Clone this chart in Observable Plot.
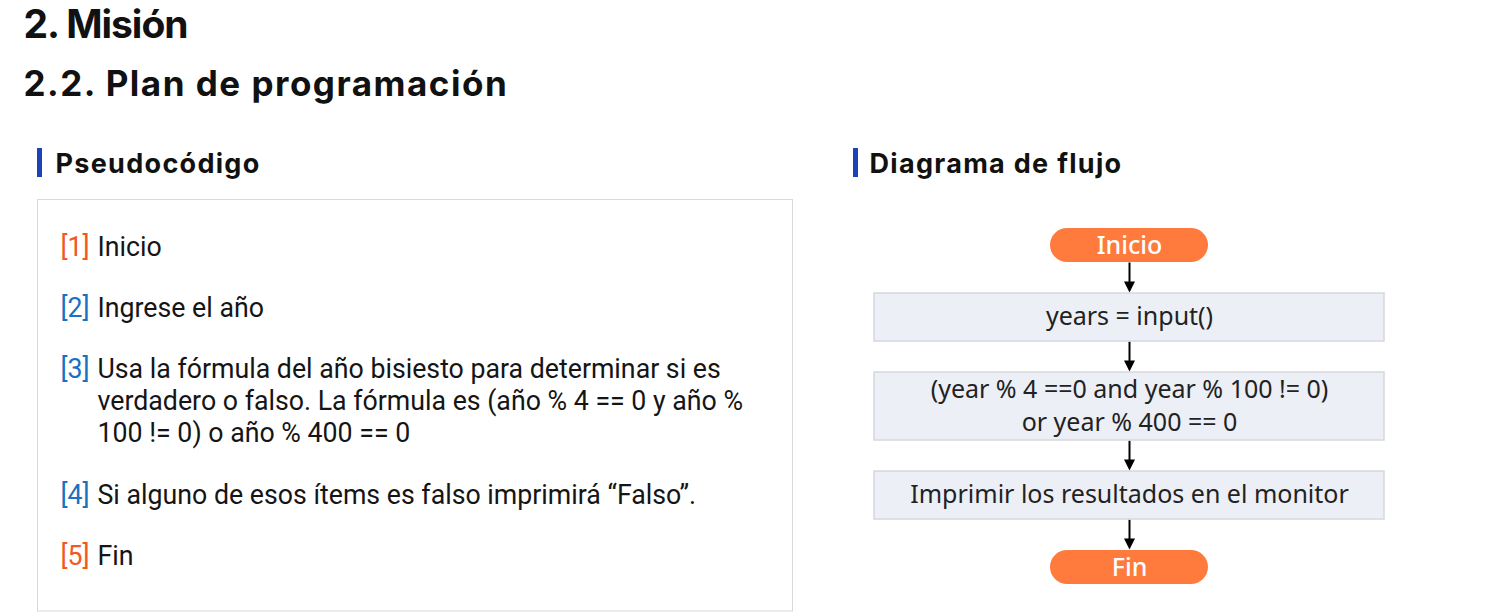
<!DOCTYPE html>
<html>
<head>
<meta charset="utf-8">
<script src="https://cdn.jsdelivr.net/npm/d3@7"></script>
<script src="https://cdn.jsdelivr.net/npm/@observablehq/plot@0.6"></script>
<style>
  html, body { margin: 0; padding: 0; background: #fff; }
  #chart svg { display: block; }
  text[aria-label="title"] { letter-spacing: -1px; }
  text[aria-label="subtitle"] { letter-spacing: 1.5px; }
  text[aria-label="section"] { letter-spacing: 1.3px; }
</style>
</head>
<body>
<div id="chart"></div>
<script>
// ---------- data ----------
const pageTitle = "2. Misión";
const pageSubtitle = "2.2. Plan de programación";
const sectionTitles = ["Pseudocódigo", "Diagrama de flujo"];

const pseudoNums = ["[1]", "[2]", "[3]", "[4]", "[5]"];
const pseudoText = [
  "Inicio",
  "Ingrese el año",
  "Usa la fórmula del año bisiesto para determinar si es\nverdadero o falso. La fórmula es (año % 4 == 0 y año %\n100 != 0) o año % 400 == 0",
  "Si alguno de esos ítems es falso imprimirá “Falso”.",
  "Fin"
];

const flowLabels = [
  "Inicio",
  "years = input()",
  "(year % 4 ==0 and year % 100 != 0)\nor year % 400 == 0",
  "Imprimir los resultados en el monitor",
  "Fin"
];
const flowKinds = ["terminal", "process", "process", "process", "terminal"];

// ---------- layout (computed) ----------
const W = 1504, H = 612;
const bodyFont = "Roboto, 'Noto Sans', sans-serif";
const flowFont = "'Noto Sans', 'Open Sans', sans-serif";
const headFont = "Inter, Lato, sans-serif";

const orange = "#f4581f", blue = "#1a70c1", barBlue = "#1c44b6";
const pillFill = "#ff7a3d", boxFill = "#eceff6", boxStroke = "#d6d8dc";

// pseudocode rows
const pFs = 28, pLine = 32.5, pGap = 61, condense = 0.955;
const pLH = pLine / pFs;
let py = 255;
const pseudoRows = pseudoNums.map((num, i) => {
  const lines = pseudoText[i].split("\n").length;
  const row = {num, text: pseudoText[i], baseline: py,
    color: (i === 0 || i === pseudoNums.length - 1) ? orange : blue};
  py += pGap + (lines - 1) * pLine;
  return row;
});

// flowchart nodes
const cx = 1129, gap = 31;
let fy = 228;
const flowNodes = flowLabels.map((label, i) => {
  const kind = flowKinds[i];
  const lines = label.split("\n").length;
  const h = kind === "terminal" ? 34 : 48 + (lines - 1) * 20;
  const w = kind === "terminal" ? 158 : 510;
  const n = {label, kind, x1: cx - w / 2, x2: cx + w / 2, y1: fy, y2: fy + h, cy: fy + h / 2};
  fy += h + gap;
  return n;
});
const flowArrows = flowNodes.slice(0, -1).map((n, i) => ({
  x: cx, y1: n.y2, y2: flowNodes[i + 1].y1 - 1
}));

const sections = [
  {title: sectionTitles[0], barX: 37, textX: 55},
  {title: sectionTitles[1], barX: 853, textX: 869}
];

// filled downward triangle with its tip at the origin
const headDown = {
  draw(context) {
    context.moveTo(-5.5, -11);
    context.lineTo(5.5, -11);
    context.lineTo(0, 0);
    context.closePath();
  }
};

const procs = flowNodes.filter(d => d.kind === "process");
const terms = flowNodes.filter(d => d.kind === "terminal");

const chart = Plot.plot({
  width: W,
  height: H,
  margin: 0,
  x: {type: "linear", domain: [0, W], range: [0, W], axis: null},
  y: {type: "linear", domain: [0, H], range: [0, H], axis: null},
  color: {type: "identity"},
  style: {background: "#fff", overflow: "visible"},
  marks: [
    // headings
    Plot.text([pageTitle], {x: () => 23, y: () => 10, text: d => d, textAnchor: "start", lineAnchor: "top",
      fontSize: 39, fontWeight: 700, fontFamily: headFont, fill: "#111", ariaLabel: () => "title"}),
    Plot.text([pageSubtitle], {x: () => 23, y: () => 71, text: d => d, textAnchor: "start", lineAnchor: "top",
      fontSize: 35, fontWeight: 700, fontFamily: headFont, fill: "#111", ariaLabel: () => "subtitle"}),
    // section bars + titles
    Plot.rect(sections, {x1: d => d.barX, x2: d => d.barX + 5, y1: () => 148, y2: () => 177, fill: barBlue}),
    Plot.text(sections, {x: "textX", y: () => 153, text: "title", textAnchor: "start", lineAnchor: "top",
      fontSize: 27, fontWeight: 700, fontFamily: headFont, fill: "#111", ariaLabel: () => "section"}),
    // pseudocode frame
    Plot.rect([0], {x1: () => 37.5, x2: () => 792.5, y1: () => 199.5, y2: () => 611, fill: "none", stroke: "#d9d9d9", strokeWidth: 1}),
    Plot.text(pseudoRows, {x: () => 60, y: d => d.baseline - 0.71 * pLH * pFs, text: "num", fill: "color",
      textAnchor: "start", lineAnchor: "top", lineHeight: pLH, fontSize: pFs, fontFamily: bodyFont,
      ariaLabel: () => "pseudo"}),
    Plot.text(pseudoRows, {x: () => 97, y: d => d.baseline - 0.71 * pLH * pFs, text: "text", fill: "#151515",
      textAnchor: "start", lineAnchor: "top", lineHeight: pLH, fontSize: pFs, fontFamily: bodyFont,
      ariaLabel: () => "pseudo"}),
    // flowchart arrows
    Plot.link(flowArrows, {x1: "x", x2: "x", y1: "y1", y2: d => d.y2 - 8, stroke: "#000", strokeWidth: 2}),
    Plot.dot(flowArrows, {x: "x", y: "y2", symbol: headDown, r: 5, fill: "#000", stroke: "none"}),
    // flowchart process boxes
    Plot.rect(procs, {x1: "x1", x2: "x2", y1: "y1", y2: "y2", fill: boxFill, stroke: boxStroke, strokeWidth: 1.5}),
    Plot.text(procs, {x: () => cx, y: d => d.cy - 2.5, text: "label", lineAnchor: "middle", lineHeight: 1.3,
      fontSize: 25, fontFamily: flowFont, fill: "#222"}),
    // terminals
    Plot.rect(terms, {x1: "x1", x2: "x2", y1: "y1", y2: "y2", fill: pillFill, rx: 17}),
    Plot.text(terms, {x: () => cx, y: "cy", text: "label", lineAnchor: "middle",
      fontSize: 25, fontFamily: flowFont, fontWeight: 500, fill: "#fff"})
  ]
});

// condense the pseudocode text horizontally (narrow typeface look)
d3.select(chart).selectAll('text[aria-label="pseudo"]').each(function () {
  const t = this.getAttribute("transform") || "";
  this.setAttribute("transform", `${t} scale(${condense},1)`);
});

document.getElementById("chart").appendChild(chart);
</script>
</body>
</html>
